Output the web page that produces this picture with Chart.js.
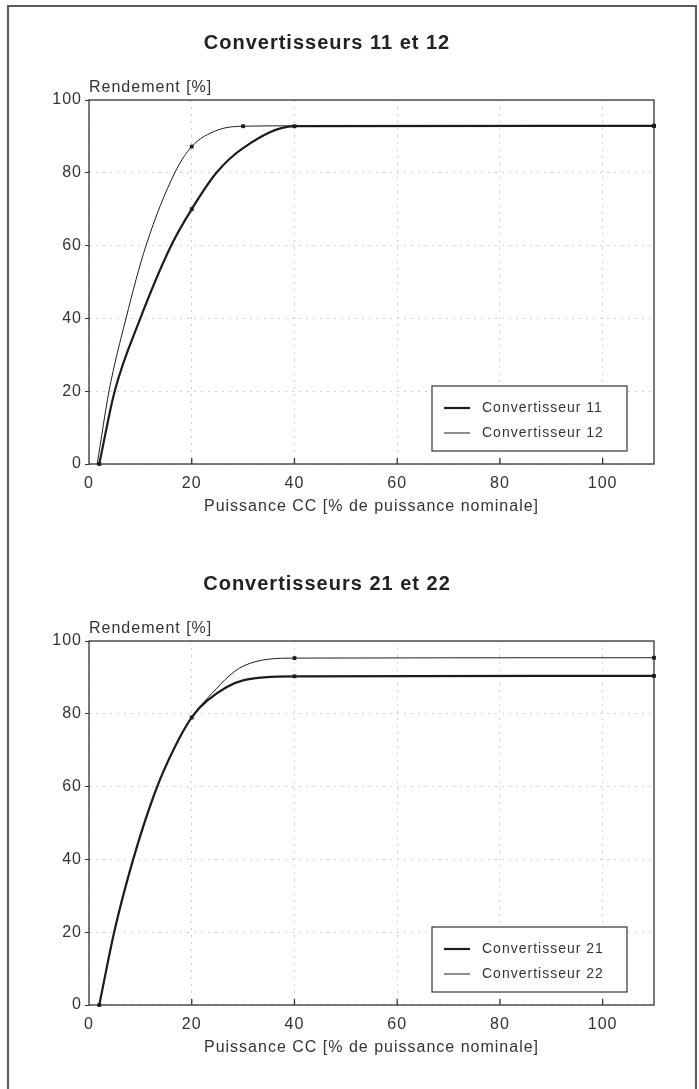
<!DOCTYPE html>
<html>
<head>
<meta charset="utf-8">
<script src="https://cdn.jsdelivr.net/npm/chart.js@4.4.0/dist/chart.umd.min.js"></script>
<style>
  body { margin: 0; background: #fff; }
  #frame { position: absolute; left: 7px; top: 5px; width: 686px; height: 1120px;
           border: 2px solid #5a5a5a; border-bottom: none; }
  canvas { position: absolute; left: 0; }
</style>
</head>
<body>
<div id="frame"></div>
<canvas id="chart1" width="699" height="540" style="top:0px"></canvas>
<canvas id="chart2" width="699" height="540" style="top:541px"></canvas>
<script>
// axes
const xTicks = [0, 20, 40, 60, 80, 100];
const yTicks = [0, 20, 40, 60, 80, 100];
const xTitle = 'Puissance CC [% de puissance nominale]';
const yTitle = 'Rendement [%]';

// chart 1 - Convertisseurs 11 et 12
const title1 = 'Convertisseurs 11 et 12';
const label11 = 'Convertisseur 11';
const x11 = [2, 5, 10, 16, 20, 24.8, 30, 40, 110];
const y11 = [0, 20, 40, 60, 70, 80, 86.8, 92.8, 92.9];
const marks11 = [2, 20, 40, 110];
const label12 = 'Convertisseur 12';
const x12 = [1.6, 3.9, 7.2, 11.1, 16.7, 20, 25, 30, 40, 110];
const y12 = [0, 20, 40, 60, 80, 87.2, 91.7, 92.8, 92.9, 92.9];
const marks12 = [20, 30, 110];

// chart 2 - Convertisseurs 21 et 22
const title2 = 'Convertisseurs 21 et 22';
const label21 = 'Convertisseur 21';
const x21 = [2, 4.9, 8.6, 13, 16.4, 20, 23, 30, 40, 110];
const y21 = [0, 20, 40, 59, 70, 79, 83.6, 89.2, 90.3, 90.4];
const marks21 = [2, 20, 40, 110];
const label22 = 'Convertisseur 22';
const x22 = [2, 4.9, 8.6, 13, 16.4, 20, 23, 30, 40, 110];
const y22 = [0, 20, 40, 59, 70, 79, 84.2, 93.1, 95.3, 95.4];
const marks22 = [40, 110];

Chart.defaults.font.family = '"Liberation Sans", Arial, sans-serif';
Chart.defaults.color = '#333';

function pts(xs, ys) {
  return xs.map((v, i) => ({ x: v, y: ys[i] }));
}

function series(label, xs, ys, marks, width) {
  return {
    label: label,
    data: pts(xs, ys),
    borderColor: '#1c1c1c',
    backgroundColor: '#1c1c1c',
    borderWidth: width,
    cubicInterpolationMode: 'monotone',
    pointStyle: 'rect',
    pointRadius: c => marks.includes(c.raw.x) ? 2.7 : 0,
    pointBorderWidth: 0,
    clip: 6
  };
}

// the original lettering is widely tracked
const tracking = {
  id: 'tracking',
  beforeInit(chart) { chart.ctx.letterSpacing = '1px'; },
  beforeUpdate(chart) { chart.ctx.letterSpacing = '1px'; },
  beforeDraw(chart) { chart.ctx.letterSpacing = '1px'; }
};

// plot frame, inner x ticks, y title, legend box
const extras = {
  id: 'extras',
  beforeDatasetsDraw(chart) {
    const { ctx, chartArea: a, scales } = chart;
    ctx.save();
    ctx.strokeStyle = '#333';
    ctx.lineWidth = 1.3;
    ctx.strokeRect(a.left, a.top, a.right - a.left, a.bottom - a.top);
    xTicks.forEach(v => {
      if (v === 0) return;
      const px = scales.x.getPixelForValue(v);
      ctx.beginPath();
      ctx.moveTo(px, a.bottom);
      ctx.lineTo(px, a.bottom - 6);
      ctx.stroke();
    });
    ctx.fillStyle = '#333';
    ctx.font = '16px "Liberation Sans", Arial, sans-serif';
    ctx.textAlign = 'left';
    ctx.textBaseline = 'alphabetic';
    ctx.fillText(yTitle, a.left, a.top - 8);
    ctx.restore();
  },
  afterDraw(chart) {
    const { ctx, chartArea: a } = chart;
    const w = 195, h = 65;
    const bx = a.right - 27 - w, by = a.bottom - 13 - h;
    ctx.save();
    ctx.fillStyle = '#fff';
    ctx.fillRect(bx, by, w, h);
    ctx.strokeStyle = '#333';
    ctx.lineWidth = 1.2;
    ctx.strokeRect(bx, by, w, h);
    ctx.font = '14px "Liberation Sans", Arial, sans-serif';
    ctx.textBaseline = 'middle';
    ctx.textAlign = 'left';
    chart.data.datasets.forEach((ds, i) => {
      const yy = by + 22 + i * 25;
      ctx.strokeStyle = ds.borderColor;
      ctx.lineWidth = ds.borderWidth;
      ctx.beginPath();
      ctx.moveTo(bx + 12, yy);
      ctx.lineTo(bx + 38, yy);
      ctx.stroke();
      ctx.fillStyle = '#333';
      ctx.fillText(ds.label, bx + 50, yy);
    });
    ctx.restore();
  }
};

function makeChart(id, title, datasets) {
  return new Chart(id, {
    type: 'line',
    data: { datasets: datasets },
    plugins: [tracking, extras],
    options: {
      responsive: false,
      animation: false,
      devicePixelRatio: 1,
      layout: { padding: { left: 0, right: 45, top: 0, bottom: 0 } },
      plugins: {
        legend: { display: false },
        tooltip: { enabled: false },
        title: {
          display: true,
          text: title,
          color: '#222',
          font: { size: 20, weight: 'bold' },
          padding: { top: 31, bottom: 45 }
        }
      },
      scales: {
        x: {
          type: 'linear',
          min: 0,
          max: 110,
          afterBuildTicks: s => { s.ticks = xTicks.map(v => ({ value: v })); },
          afterFit: s => { s.height = 76; },
          ticks: { font: { size: 16 }, color: '#333', padding: 10 },
          grid: { color: '#cfcfcf', drawTicks: false },
          border: { display: false, dash: [2, 5] },
          title: {
            display: true,
            text: xTitle,
            color: '#333',
            font: { size: 16 },
            padding: { top: 0, bottom: 24 }
          }
        },
        y: {
          min: 0,
          max: 100,
          afterBuildTicks: s => { s.ticks = yTicks.map(v => ({ value: v })); },
          afterFit: s => { s.width = 89; },
          ticks: { font: { size: 16 }, color: '#333', padding: 3 },
          grid: { color: '#cfcfcf', tickColor: '#333', tickLength: 4 },
          border: { display: false, dash: [2, 5] }
        }
      }
    }
  });
}

makeChart('chart1', title1, [
  series(label11, x11, y11, marks11, 2.2),
  series(label12, x12, y12, marks12, 1)
]);

makeChart('chart2', title2, [
  series(label21, x21, y21, marks21, 2.2),
  series(label22, x22, y22, marks22, 1)
]);
</script>
</body>
</html>
